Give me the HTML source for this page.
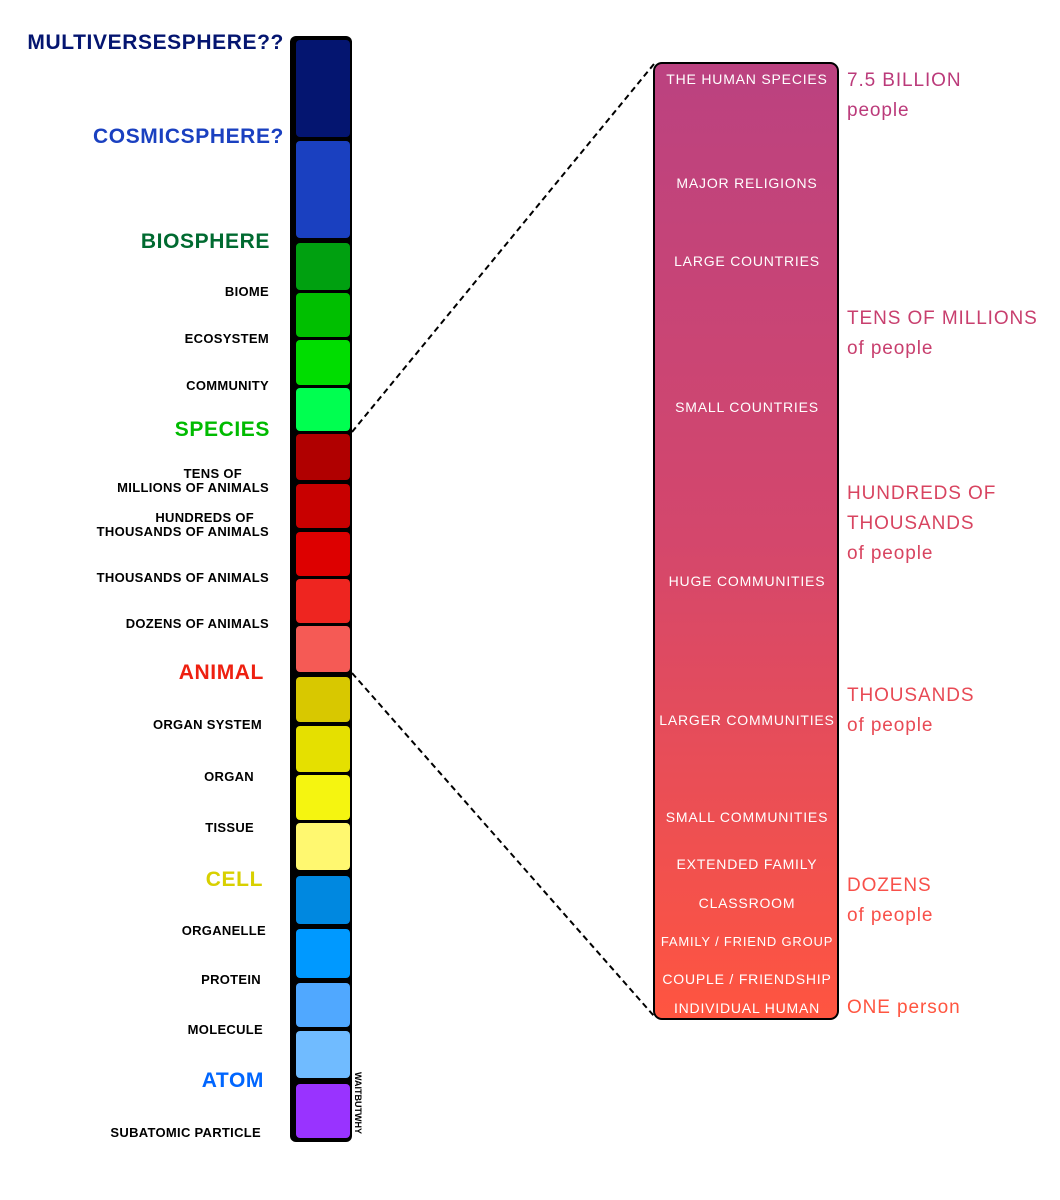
<!DOCTYPE html>
<html><head><meta charset="utf-8"><style>
body{margin:0;width:1060px;height:1200px;background:#fff;position:relative;overflow:hidden;font-family:"Liberation Sans",sans-serif}
.bar{position:absolute;left:290px;top:36px;width:62px;height:1106px;background:#000;border-radius:6px}
.b{position:absolute;left:296px;width:54px;border-radius:4px}
.l{position:absolute;right:791px;font-weight:bold;font-size:13px;text-align:right;line-height:14px;color:#000;white-space:nowrap;letter-spacing:0.3px}
.L{position:absolute;right:790px;font-weight:bold;font-size:21px;white-space:nowrap;letter-spacing:0.6px}
.rb{position:absolute;left:653px;top:62px;width:182px;height:954px;border:2px solid #000;border-radius:9px;background:linear-gradient(#bb4280,#d4476c 50%,#ff5540)}
.in{position:absolute;left:655px;width:184px;text-align:center;color:#fff;font-size:14px;letter-spacing:0.8px;white-space:nowrap}
.r{position:absolute;left:847px;font-size:19px;line-height:30px;letter-spacing:0.9px;white-space:nowrap}
</style></head><body>
<svg style="position:absolute;left:0;top:0" width="1060" height="1200"><line x1="352" y1="432" x2="654" y2="64" stroke="#000" stroke-width="2" stroke-dasharray="6,4"/><line x1="352" y1="673" x2="654" y2="1016" stroke="#000" stroke-width="2" stroke-dasharray="6,4"/></svg>
<div class="bar"></div>
<div class="b" style="top:40px;height:97px;background:#041570"></div>
<div class="b" style="top:141px;height:97px;background:#1a40c0"></div>
<div class="b" style="top:243px;height:47px;background:#00a010"></div>
<div class="b" style="top:293px;height:44px;background:#00bf00"></div>
<div class="b" style="top:340px;height:45px;background:#00dd00"></div>
<div class="b" style="top:388px;height:43px;background:#00ff50"></div>
<div class="b" style="top:434px;height:46px;background:#b00000"></div>
<div class="b" style="top:484px;height:44px;background:#c80000"></div>
<div class="b" style="top:532px;height:44px;background:#dd0000"></div>
<div class="b" style="top:579px;height:44px;background:#ee2520"></div>
<div class="b" style="top:626px;height:46px;background:#f55a55"></div>
<div class="b" style="top:677px;height:45px;background:#d8c800"></div>
<div class="b" style="top:726px;height:46px;background:#e5e000"></div>
<div class="b" style="top:775px;height:45px;background:#f5f510"></div>
<div class="b" style="top:823px;height:47px;background:#fff870"></div>
<div class="b" style="top:876px;height:48px;background:#0088e0"></div>
<div class="b" style="top:929px;height:49px;background:#0099ff"></div>
<div class="b" style="top:983px;height:44px;background:#50a8ff"></div>
<div class="b" style="top:1031px;height:47px;background:#70bbff"></div>
<div class="b" style="top:1084px;height:54px;background:#9933ff"></div>
<div style="position:absolute;left:353px;top:1072px;writing-mode:vertical-rl;font-size:9px;font-weight:bold;line-height:10px">WAITBUTWHY</div>

<div class="L" style="top:31px;right:776px;color:#041570">MULTIVERSESPHERE??</div>
<div class="L" style="top:125px;right:776px;color:#1a40c0">COSMICSPHERE?</div>
<div class="L" style="top:230px;color:#006a30">BIOSPHERE</div>
<div class="l" style="top:285px">BIOME</div>
<div class="l" style="top:332px">ECOSYSTEM</div>
<div class="l" style="top:379px">COMMUNITY</div>
<div class="L" style="top:418px;color:#00bb00">SPECIES</div>
<div class="l" style="top:467px;right:818px;text-align:center">TENS OF</div>
<div class="l" style="top:481px">MILLIONS OF ANIMALS</div>
<div class="l" style="top:511px;right:806px">HUNDREDS OF</div>
<div class="l" style="top:525px">THOUSANDS OF ANIMALS</div>
<div class="l" style="top:571px">THOUSANDS OF ANIMALS</div>
<div class="l" style="top:617px">DOZENS OF ANIMALS</div>
<div class="L" style="top:661px;right:796px;color:#ee2010">ANIMAL</div>
<div class="l" style="top:718px;right:798px">ORGAN SYSTEM</div>
<div class="l" style="top:770px;right:806px">ORGAN</div>
<div class="l" style="top:821px;right:806px">TISSUE</div>
<div class="L" style="top:868px;right:797px;color:#d8d000">CELL</div>
<div class="l" style="top:924px;right:794px">ORGANELLE</div>
<div class="l" style="top:973px;right:799px">PROTEIN</div>
<div class="l" style="top:1023px;right:797px">MOLECULE</div>
<div class="L" style="top:1069px;right:796px;color:#0066ff">ATOM</div>
<div class="l" style="top:1126px;right:799px">SUBATOMIC PARTICLE</div>

<div class="rb"></div>
<div class="in" style="top:71px">THE HUMAN SPECIES</div>
<div class="in" style="top:175px">MAJOR RELIGIONS</div>
<div class="in" style="top:253px">LARGE COUNTRIES</div>
<div class="in" style="top:399px">SMALL COUNTRIES</div>
<div class="in" style="top:573px">HUGE COMMUNITIES</div>
<div class="in" style="top:712px">LARGER COMMUNITIES</div>
<div class="in" style="top:809px">SMALL COMMUNITIES</div>
<div class="in" style="top:856px">EXTENDED FAMILY</div>
<div class="in" style="top:895px">CLASSROOM</div>
<div class="in" style="top:934px;font-size:13px">FAMILY / FRIEND GROUP</div>
<div class="in" style="top:971px">COUPLE / FRIENDSHIP</div>
<div class="in" style="top:1000px">INDIVIDUAL HUMAN</div>

<div class="r" style="top:66px;color:#bb3a7a">7.5 BILLION<br>people</div>
<div class="r" style="top:304px;color:#c83f6e">TENS OF MILLIONS<br>of people</div>
<div class="r" style="top:479px;color:#d84460">HUNDREDS OF<br>THOUSANDS<br>of people</div>
<div class="r" style="top:681px;color:#e84a55">THOUSANDS<br>of people</div>
<div class="r" style="top:871px;color:#f8504a">DOZENS<br>of people</div>
<div class="r" style="top:993px;color:#ff5540">ONE person</div>
</body></html>
